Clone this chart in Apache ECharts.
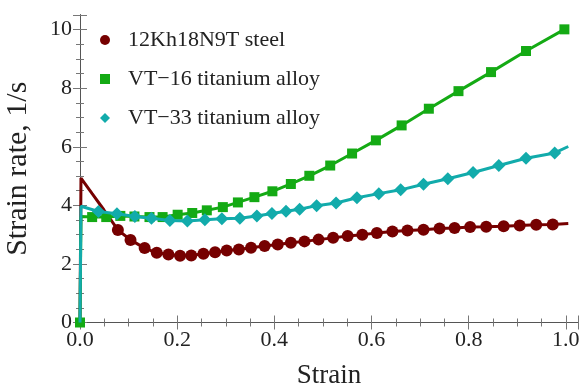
<!DOCTYPE html>
<html>
<head>
<meta charset="utf-8">
<script src="https://cdn.jsdelivr.net/npm/echarts@6/dist/echarts.min.js"></script>
<style>
  html, body { margin: 0; padding: 0; background: #fff; }
  #chart { width: 587px; height: 392px; }
</style>
</head>
<body>
<div id="chart"></div>
<script>
// series names
const names = ["12Kh18N9T steel", "VT\u221216 titanium alloy", "VT\u221233 titanium alloy"];
const colors = ["#760000", "#14aa14", "#12abab"];

// 12Kh18N9T steel: points drawn with a marker
const steelStrain = [0.078, 0.104, 0.133, 0.158, 0.182, 0.206, 0.229, 0.254, 0.278, 0.302, 0.327, 0.352, 0.380, 0.407, 0.434, 0.462, 0.491, 0.521, 0.551, 0.581, 0.611, 0.643, 0.674, 0.707, 0.740, 0.771, 0.803, 0.836, 0.872, 0.905, 0.939, 0.973];
const steelRate = [3.16, 2.82, 2.54, 2.38, 2.32, 2.28, 2.29, 2.35, 2.40, 2.46, 2.49, 2.55, 2.61, 2.66, 2.72, 2.77, 2.83, 2.89, 2.95, 3.00, 3.06, 3.11, 3.14, 3.17, 3.21, 3.23, 3.26, 3.27, 3.29, 3.31, 3.34, 3.35];
// line-only points (start and end of the curve)
const steelHeadStrain = [0, 0.002, 0.025, 0.049];
const steelHeadRate = [0, 4.93, 4.40, 3.85];
const steelTailStrain = [1.005];
const steelTailRate = [3.38];

// VT-16 titanium alloy
const vt16Strain = [0, 0.025, 0.054, 0.083, 0.112, 0.143, 0.170, 0.201, 0.231, 0.261, 0.294, 0.325, 0.359, 0.396, 0.434, 0.472, 0.515, 0.560, 0.609, 0.662, 0.718, 0.779, 0.846, 0.918, 0.997];
const vt16Rate = [0, 3.60, 3.60, 3.64, 3.62, 3.60, 3.60, 3.68, 3.74, 3.83, 3.94, 4.10, 4.28, 4.48, 4.73, 5.01, 5.36, 5.77, 6.22, 6.73, 7.30, 7.90, 8.55, 9.27, 10.01];
// vertical rise from the origin, no marker on it
const vt16HeadStrain = [0.002];
const vt16HeadRate = [3.62];
const vt16TailStrain = [];
const vt16TailRate = [];

// VT-33 titanium alloy
const vt33Strain = [0.038, 0.076, 0.113, 0.147, 0.185, 0.221, 0.257, 0.292, 0.329, 0.364, 0.395, 0.424, 0.452, 0.487, 0.527, 0.570, 0.615, 0.660, 0.707, 0.757, 0.809, 0.862, 0.918, 0.977];
const vt33Rate = [3.79, 3.71, 3.62, 3.56, 3.48, 3.47, 3.51, 3.54, 3.56, 3.64, 3.72, 3.80, 3.87, 3.99, 4.08, 4.26, 4.40, 4.53, 4.72, 4.91, 5.12, 5.36, 5.61, 5.79];
const vt33HeadStrain = [0, 0.002];
const vt33HeadRate = [0, 3.97];
const vt33TailStrain = [1.005];
const vt33TailRate = [6.01];

// axis ticks
const xMajor = 0.2, xMinor = 0.05, xMax = 1.025;
const yMajor = 2, yMinor = 0.5, yMax = 10.5;

const FONT = "'Liberation Serif', 'Times New Roman', 'DejaVu Serif', serif";
const FRAME = "#555";

// 线段 + 标记点 组合
function buildData(hx, hy, mx, my, tx, ty, headFirst) {
  const out = [];
  const marks = mx.map((x, i) => ({ value: [x, my[i]] }));
  const head = hx.map((x, i) => ({ value: [x, hy[i]], symbol: "none" }));
  const tail = tx.map((x, i) => ({ value: [x, ty[i]], symbol: "none" }));
  if (headFirst) {
    out.push(...head, ...marks, ...tail);
  } else {
    // marker at the origin comes before the unmarked rise
    out.push(marks[0], ...head, ...marks.slice(1), ...tail);
  }
  return out;
}

function axis(pos, interval, max, tickLen, opts) {
  return Object.assign({
    type: "value",
    position: pos,
    min: 0,
    max: max,
    interval: interval,
    splitLine: { show: false },
    axisLine: { show: true, lineStyle: { color: FRAME, width: 1 } },
    axisTick: { show: true, inside: true, length: tickLen, lineStyle: { color: "#777", width: 1 } },
    axisLabel: { show: false },
  }, opts || {});
}

const labelFmt = (step) => (v) => {
  const k = Math.round(v / step);
  if (Math.abs(k * step - v) > 1e-6) return "";
  return step < 1 ? v.toFixed(1) : String(Math.round(v));
};

const chart = echarts.init(document.getElementById("chart"), null, { renderer: "canvas" });

const series = [
  { hx: steelHeadStrain, hy: steelHeadRate, mx: steelStrain, my: steelRate, tx: steelTailStrain, ty: steelTailRate, symbol: "circle", size: 12, headFirst: true },
  { hx: vt16HeadStrain, hy: vt16HeadRate, mx: vt16Strain, my: vt16Rate, tx: vt16TailStrain, ty: vt16TailRate, symbol: "rect", size: 10, headFirst: false },
  { hx: vt33HeadStrain, hy: vt33HeadRate, mx: vt33Strain, my: vt33Rate, tx: vt33TailStrain, ty: vt33TailRate, symbol: "diamond", size: 13, headFirst: true },
].map((s, i) => ({
  name: names[i],
  type: "line",
  xAxisIndex: 0,
  yAxisIndex: 0,
  data: buildData(s.hx, s.hy, s.mx, s.my, s.tx, s.ty, s.headFirst),
  symbol: s.symbol,
  symbolSize: s.size,
  showAllSymbol: true,
  smooth: false,
  lineStyle: { color: colors[i], width: 3 },
  itemStyle: { color: colors[i] },
  emphasis: { disabled: true },
  animation: false,
  z: 2 + i,
}));

chart.setOption({
  animation: false,
  backgroundColor: "#fff",
  textStyle: { fontFamily: FONT },
  grid: { left: 80, right: 9, top: 15, bottom: 69.5, containLabel: false, outerBoundsMode: "none" },
  legend: {
    orient: "vertical",
    left: 95,
    top: 24,
    itemWidth: 10,
    itemHeight: 10,
    itemGap: 17,
    selectedMode: false,
    data: [
      { name: names[0], icon: "circle" },
      { name: names[1], icon: "rect" },
      { name: names[2], icon: "diamond" },
    ],
    textStyle: { fontFamily: FONT, fontSize: 22, color: "#222", lineHeight: 22, padding: [0, 0, 0, 13] },
  },
  xAxis: [
    axis("bottom", xMajor, xMax, 7, {
      name: "Strain",
      nameLocation: "middle",
      nameGap: 40,
      nameTextStyle: { fontFamily: FONT, fontSize: 27, color: "#222" },
      axisLabel: { show: true, margin: 7, fontFamily: FONT, fontSize: 22, color: "#222", formatter: labelFmt(xMajor) },
    }),
    axis("bottom", xMinor, xMax, 4),
    axis("top", xMajor, xMax, 7),
    axis("top", xMinor, xMax, 4),
  ],
  yAxis: [
    axis("left", yMajor, yMax, 7, {
      name: "Strain rate, 1/s",
      nameLocation: "middle",
      nameGap: 47,
      nameTextStyle: { fontFamily: FONT, fontSize: 30, color: "#222" },
      axisLabel: { show: true, margin: 8, fontFamily: FONT, fontSize: 22, color: "#222", formatter: labelFmt(yMajor) },
    }),
    axis("left", yMinor, yMax, 4),
    axis("right", yMajor, yMax, 7),
    axis("right", yMinor, yMax, 4),
  ],
  series: series,
});
</script>
</body>
</html>
